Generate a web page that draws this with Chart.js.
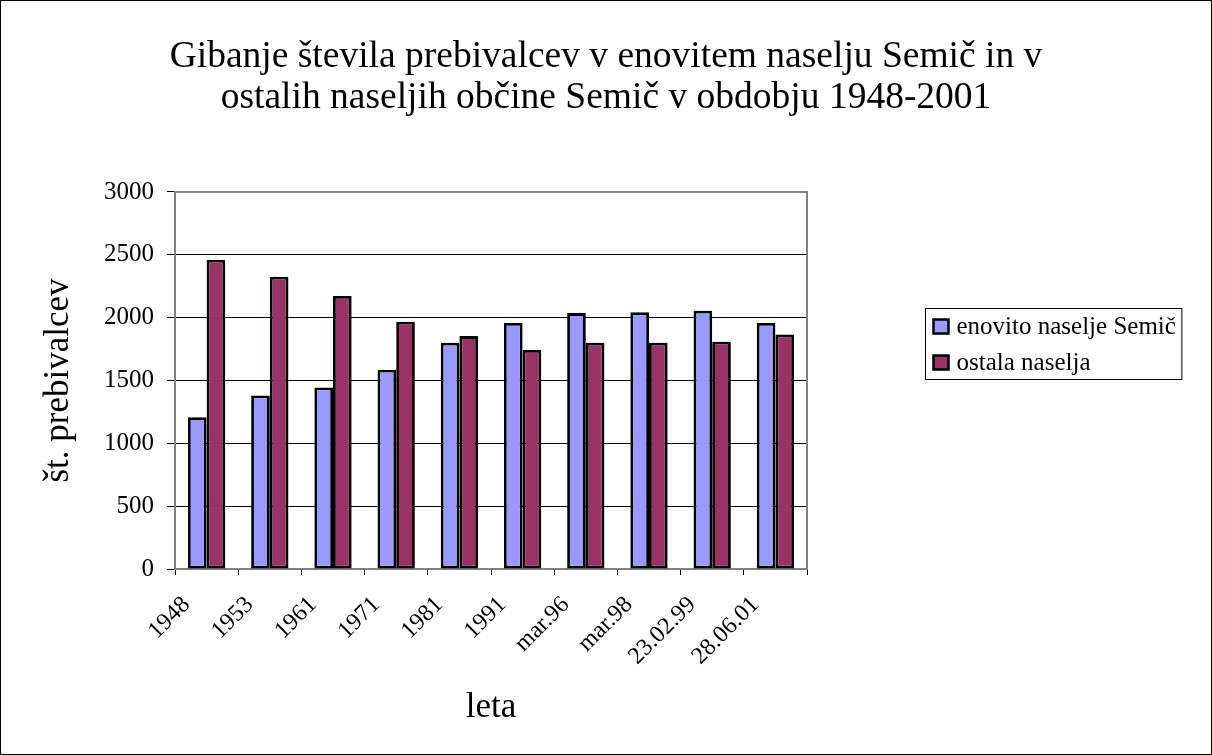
<!DOCTYPE html>
<html><head><meta charset="utf-8">
<script src="https://cdn.jsdelivr.net/npm/chart.js@4/dist/chart.umd.min.js"></script>
<style>html,body{margin:0;padding:0;background:#fff;} canvas{display:block;}</style>
</head><body>
<canvas id="c" width="1212" height="755" style="width:1212px;height:755px"></canvas>
<script>
const categories = ['1948','1953','1961','1971','1981','1991','mar.96','mar.98','23.02.99','28.06.01'];
const semic = [1208,1381,1444,1585,1800,1957,2036,2042,2055,1957];
const ostala = [2461,2326,2172,1967,1853,1742,1800,1800,1808,1866];
const seriesNames = ['enovito naselje Semič','ostala naselja'];
const yTicks = [0,500,1000,1500,2000,2500,3000];
const titleLines = ['Gibanje števila prebivalcev v enovitem naselju Semič in v','ostalih naseljih občine Semič v obdobju 1948-2001'];
const yTitle = 'št. prebivalcev';
const xTitle = 'leta';

const FONT = "'Liberation Serif', 'Times New Roman', serif";
const COLORS = ['#9999FF', '#993366'];

const frameAndLegend = {
  id: 'frameAndLegend',
  beforeDatasetsDraw(chart) {
    const {ctx, chartArea: a} = chart;
    ctx.save();
    ctx.strokeStyle = '#808080';
    ctx.lineWidth = 2;
    ctx.strokeRect(a.left, a.top, a.right - a.left, a.bottom - a.top);
    ctx.restore();
  },
  afterDraw(chart) {
    const ctx = chart.ctx;
    ctx.save();
    ctx.strokeStyle = '#000';
    ctx.lineWidth = 1;
    ctx.strokeRect(0.5, 0.5, chart.width - 1, chart.height - 1);
    ctx.font = "25px " + FONT;
    const ds = chart.data.datasets;
    let maxW = 0;
    ds.forEach(d => { maxW = Math.max(maxW, ctx.measureText(d.label).width); });
    const bx = 925.5, by = 308.5, rowH = 36;
    const bw = 31 + maxW + 6, bh = rowH * ds.length - 1;
    ctx.fillStyle = '#fff';
    ctx.fillRect(bx, by, bw, bh);
    ctx.strokeStyle = '#000';
    ctx.lineWidth = 1;
    ctx.strokeRect(bx, by, bw, bh);
    ds.forEach((d, i) => {
      const cy = by + 18 + i * rowH;
      ctx.fillStyle = d.backgroundColor;
      ctx.fillRect(bx + 8, cy - 7, 15, 14);
      ctx.strokeStyle = '#000';
      ctx.lineWidth = 2.5;
      ctx.strokeRect(bx + 8, cy - 7, 15, 14);
      ctx.fillStyle = '#000';
      ctx.textBaseline = 'middle';
      ctx.textAlign = 'left';
      ctx.fillText(d.label, bx + 31, cy + 1);
    });
    ctx.restore();
  }
};

new Chart(document.getElementById('c'), {
  type: 'bar',
  data: {
    labels: categories,
    datasets: [
      {label: seriesNames[0], data: semic, backgroundColor: COLORS[0]},
      {label: seriesNames[1], data: ostala, backgroundColor: COLORS[1]}
    ]
  },
  options: {
    responsive: false,
    animation: false,
    devicePixelRatio: 1,
    layout: {padding: 0},
    datasets: {
      bar: {
        borderColor: '#000',
        borderWidth: 2.8,
        borderSkipped: false,
        categoryPercentage: 0.59,
        barPercentage: 1
      }
    },
    plugins: {
      legend: {display: false},
      tooltip: {enabled: false},
      title: {
        display: true,
        text: titleLines,
        color: '#000',
        font: {family: FONT, size: 37.5, weight: 'normal', lineHeight: 1.11},
        padding: {top: 36, bottom: 72.7}
      }
    },
    scales: {
      x: {
        grid: {display: true, drawOnChartArea: false, drawTicks: true, tickLength: 6, color: '#000', offset: true},
        border: {display: false},
        ticks: {
          color: '#000', font: {family: FONT, size: 24},
          minRotation: 45, maxRotation: 45, autoSkip: false,
          padding: 16, labelOffset: -20
        },
        title: {display: true, text: xTitle, color: '#000', font: {family: FONT, size: 35}, padding: {top: 0, bottom: 26}},
        afterFit: s => { s.height = 186; }
      },
      y: {
        min: 0, max: 3000,
        grid: {color: '#000', lineWidth: 1, tickLength: 8, drawTicks: true},
        border: {display: false},
        ticks: {color: '#000', font: {family: FONT, size: 25}, padding: 13, callback: v => String(v)},
        afterBuildTicks: s => { s.ticks = yTicks.map(v => ({value: v})); },
        title: {display: true, text: yTitle, color: '#000', font: {family: FONT, size: 35}, padding: {top: 38, bottom: 0}},
        afterFit: s => { s.width = 175; }
      },
      side: {
        type: 'linear', position: 'right', display: true,
        grid: {display: false}, border: {display: false}, ticks: {display: false},
        afterFit: s => { s.width = 405; }
      }
    }
  },
  plugins: [frameAndLegend]
});
</script>
</body></html>
